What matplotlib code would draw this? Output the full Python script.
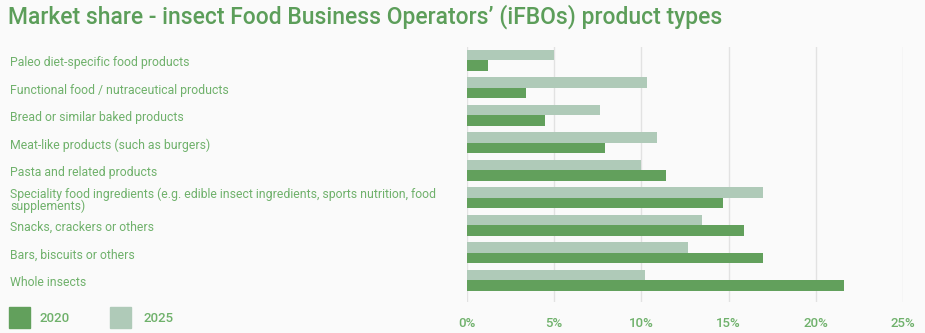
import numpy as np
import matplotlib.pyplot as plt
import matplotlib.transforms as mtransforms
from matplotlib.patches import Rectangle

categories = [
    "Paleo diet-specific food products",
    "Functional food / nutraceutical products",
    "Bread or similar baked products",
    "Meat-like products (such as burgers)",
    "Pasta and related products",
    "Speciality food ingredients (e.g. edible insect ingredients, sports nutrition, food\nsupplements)",
    "Snacks, crackers or others",
    "Bars, biscuits or others",
    "Whole insects",
]
share_2020 = [1.2, 3.4, 4.5, 7.9, 11.4, 14.7, 15.9, 17.0, 21.6]
share_2025 = [5.0, 10.3, 7.6, 10.9, 10.0, 17.0, 13.5, 12.7, 10.2]
xticks = [0, 5, 10, 15, 20, 25]

c2020 = '#62a05c'
c2025 = '#afcab8'
txt = '#6fb16b'
bg = '#fafafa'

plt.rcParams['font.family'] = ['Roboto', 'DejaVu Sans']

fig = plt.figure(figsize=(9.25, 3.33), dpi=100, facecolor=bg)
ax = fig.add_axes([467/925, 1-302/333, (903-467)/925, 255/333])
ax.set_facecolor(bg)

y = np.arange(len(categories))
h = 0.37
ax.barh(y - 0.19, share_2025, height=h, color=c2025, zorder=2)
ax.barh(y + 0.19, share_2020, height=h, color=c2020, zorder=2)

ax.set_xlim(0, 25)
ax.set_ylim(8.79, -0.484)
ax.set_xticks(xticks)
ax.set_xticklabels([f"{t}%" for t in xticks], color=txt, fontsize=9.5, weight='medium')
ax.set_yticks([])
ax.tick_params(axis='x', length=0, pad=11)
ax.grid(axis='x', color='#e2e2e2', linewidth=1, zorder=0)
for s in ax.spines.values():
    s.set_visible(False)

# category labels at the left edge of the figure
tr = mtransforms.blended_transform_factory(fig.transFigure, ax.transData)
for i, lab in enumerate(categories):
    ax.text(10/925, i + 0.08, lab, transform=tr, ha='left', va='center',
            fontsize=8.85, color=txt, linespacing=0.85)

fig.text(8/925, 1-17/333, "Market share - insect Food Business Operators\u2019 (iFBOs) product types",
         fontsize=16.5, color='#5c9e5a', weight='medium', ha='left', va='center')

# legend
fig.patches.append(Rectangle((9/925, 1-328/333), 21/925, 21/333, transform=fig.transFigure,
                             color=c2020, figure=fig))
fig.text(40/925, 1-318/333, "2020", fontsize=9.5, color=txt, va='center', weight='medium')
fig.patches.append(Rectangle((110/925, 1-328/333), 21/925, 21/333, transform=fig.transFigure,
                             color=c2025, figure=fig))
fig.text(143/925, 1-318/333, "2025", fontsize=9.5, color=txt, va='center', weight='medium')

fig.savefig('out.png', dpi=100, facecolor=bg)
